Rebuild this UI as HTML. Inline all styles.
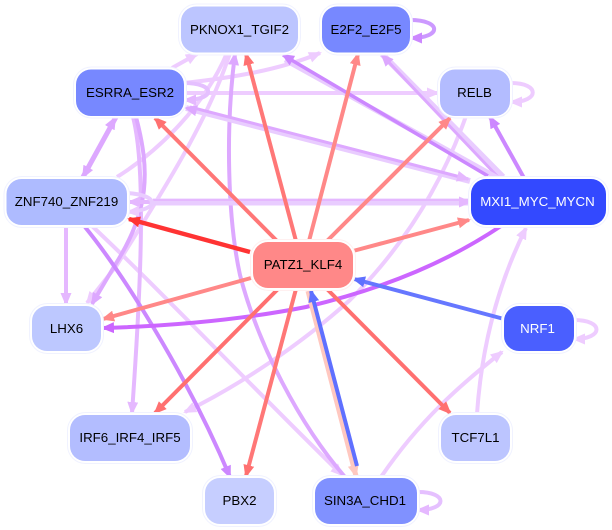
<!DOCTYPE html>
<html><head><meta charset="utf-8"><style>
html,body{margin:0;padding:0;background:#fff;width:612px;height:530px;overflow:hidden}
svg{display:block}
text{font-family:"Liberation Sans",sans-serif;font-size:13.3px;text-anchor:middle;fill:#000}
.e{fill:none;stroke-width:4}
.r{fill:#fff;stroke-width:1}
</style></head><body>
<svg width="612" height="530" viewBox="0 0 612 530" xmlns="http://www.w3.org/2000/svg">
<defs>
<marker id="a1" markerUnits="userSpaceOnUse" markerWidth="14" markerHeight="11" refX="11" refY="5.5" orient="auto"><path d="M0 0L13 5.5L0 11z" fill="#eeccff"/></marker>
<marker id="a2" markerUnits="userSpaceOnUse" markerWidth="14" markerHeight="11" refX="11" refY="5.5" orient="auto"><path d="M0 0L13 5.5L0 11z" fill="#e5b8ff"/></marker>
<marker id="a3" markerUnits="userSpaceOnUse" markerWidth="14" markerHeight="11" refX="11" refY="5.5" orient="auto"><path d="M0 0L13 5.5L0 11z" fill="#dda8ff"/></marker>
<marker id="a4" markerUnits="userSpaceOnUse" markerWidth="14" markerHeight="11" refX="11" refY="5.5" orient="auto"><path d="M0 0L13 5.5L0 11z" fill="#cc88ff"/></marker>
<marker id="a5" markerUnits="userSpaceOnUse" markerWidth="14" markerHeight="11" refX="11" refY="5.5" orient="auto"><path d="M0 0L13 5.5L0 11z" fill="#cc66ff"/></marker>
<marker id="b1" markerUnits="userSpaceOnUse" markerWidth="14" markerHeight="11" refX="11" refY="5.5" orient="auto"><path d="M0 0L13 5.5L0 11z" fill="#ff8888"/></marker>
<marker id="b2" markerUnits="userSpaceOnUse" markerWidth="14" markerHeight="11" refX="11" refY="5.5" orient="auto"><path d="M0 0L13 5.5L0 11z" fill="#ff7070"/></marker>
<marker id="b3" markerUnits="userSpaceOnUse" markerWidth="14" markerHeight="11" refX="11" refY="5.5" orient="auto"><path d="M0 0L13 5.5L0 11z" fill="#ff3333"/></marker>
<marker id="b4" markerUnits="userSpaceOnUse" markerWidth="14" markerHeight="11" refX="11" refY="5.5" orient="auto"><path d="M0 0L13 5.5L0 11z" fill="#ffc8c0"/></marker>
<marker id="c1" markerUnits="userSpaceOnUse" markerWidth="14" markerHeight="11" refX="11" refY="5.5" orient="auto"><path d="M0 0L13 5.5L0 11z" fill="#5f70ff"/></marker>
</defs>

<!-- pale edges -->
<g class="e">
<path d="M466 116C440 190 400 250 350 300C300 345 240 385 185 412" stroke="#eeccff" marker-end="url(#a1)"/>
<path d="M184 93L438 93" stroke="#eeccff" marker-end="url(#a1)"/>
<path d="M184 83C230 78 280 70 320 53" stroke="#eeccff" marker-end="url(#a1)"/>
<path d="M172 68L197 54" stroke="#eeccff" marker-end="url(#a1)"/>
<path d="M117 177C160 150 205 105 227 53" stroke="#eeccff"/>
<path d="M230 53C205 130 150 210 117 265L87 303" stroke="#eeccff" marker-end="url(#a1)"/>
<path d="M92 226C150 280 250 385 342 475" stroke="#eeccff" marker-end="url(#a1)"/>
<path d="M477 414C482 340 500 280 526 228" stroke="#eeccff" marker-end="url(#a1)"/>
<path d="M381 477C420 420 460 385 502 352" stroke="#eeccff" marker-end="url(#a1)"/>
<path d="M511 83C540 83 540 102 511 102" stroke="#eeccff" marker-end="url(#a1)"/>
<path d="M574 320C604 320 604 339 574 339" stroke="#eeccff" marker-end="url(#a1)"/>
<path d="M418 492C448 492 448 510 418 510" stroke="#e5c0ff" marker-end="url(#a2)"/>
<path d="M184 83C216 83 216 100 185 100" stroke="#e5c0ff" marker-end="url(#a2)"/>

<path d="M66 226L66 304" stroke="#e5b8ff" marker-end="url(#a2)"/>
<path d="M133 117C147 170 140 300 132 413" stroke="#e5b8ff" marker-end="url(#a2)"/>
<path d="M136 117C150 170 150 210 115 265L92 304" stroke="#dda8ff" marker-end="url(#a3)"/>
<path d="M345 477C300 425 258 345 240 275C228 220 225 130 235 54" stroke="#dda8ff" marker-end="url(#a3)"/>

<path d="M153 202L470 202" stroke="#e9ccff" stroke-width="7" marker-end="url(#a2)"/>
<path d="M153 200L470 200" stroke="#e5b8ff" stroke-width="2"/>
<path d="M153 202L129 202" stroke="#e5b8ff" marker-end="url(#a2)"/>
<path d="M127 193C160 195 160 210 128 212" stroke="#e9ccff" marker-end="url(#a1)"/>
<path d="M470 181L186 108" stroke="#e9ccff" stroke-width="6" marker-end="url(#a3)"/>
<path d="M190 107L468 179" stroke="#dda8ff" stroke-width="3" marker-end="url(#a2)"/>
<path d="M503 177L382 54" stroke="#e9ccff" stroke-width="6"/>
<path d="M498 177L382 55" stroke="#dda8ff" stroke-width="3" marker-end="url(#a3)"/>
<path d="M498 178L285 60" stroke="#e9ccff" stroke-width="5"/>
<path d="M488 176L283 55" stroke="#cc88ff" stroke-width="3.500" marker-end="url(#a4)"/>
<path d="M524 178L490 117" stroke="#cc88ff" marker-end="url(#a4)"/>
<path d="M116 117L83 177" stroke="#dda8ff" stroke-width="5" marker-end="url(#a3)"/>
<path d="M83 177L115 118" stroke="#dda8ff" stroke-width="3" marker-end="url(#a3)"/>
<path d="M85 227C120 270 185 370 230 477" stroke="#cc88ff" marker-end="url(#a4)"/>
<path d="M410 20C442 20 442 38 411 38" stroke="#cc99ff" marker-end="url(#a4)"/>
<path d="M501 226C450 260 390 287 306 307C240 320 170 326 103 328" stroke="#cc66ff" marker-end="url(#a5)"/>
</g>

<!-- strong edges -->
<g class="e">
<path d="M278 242L155 118" stroke="#ff7777" marker-end="url(#b2)"/>
<path d="M296 241L246 54" stroke="#ff7777" marker-end="url(#b2)"/>
<path d="M309 241L358 54" stroke="#ff8888" marker-end="url(#b1)"/>
<path d="M327 241L450 118" stroke="#ff8888" marker-end="url(#b1)"/>
<path d="M353 251L469 220" stroke="#ff8888" marker-end="url(#b1)"/>
<path d="M250 252L129 219" stroke="#ff3333" marker-end="url(#b3)" stroke-width="4.500"/>
<path d="M251 278L103 319" stroke="#ff8888" marker-end="url(#b1)"/>
<path d="M278 289L155 413" stroke="#ff7070" marker-end="url(#b2)"/>
<path d="M296 289L246 476" stroke="#ff7777" marker-end="url(#b2)"/>
<path d="M327 289L450 413" stroke="#ff7070" marker-end="url(#b2)"/>
<path d="M308 291L356 476" stroke="#ffc8c0" marker-end="url(#b4)" stroke-width="5"/>
<path d="M357 466L311 291" stroke="#5f70ff" marker-end="url(#c1)"/>
<path d="M504 319L354 279" stroke="#6677ff" marker-end="url(#c1)"/>
</g>

<!-- nodes -->
<g stroke="#f0f2ff">
<rect class="r" x="178.500" y="4" width="122" height="51" rx="18"/>
<rect class="r" x="73.500" y="67" width="113" height="51" rx="18"/>
<rect class="r" x="4" y="176.500" width="125.500" height="51" rx="18"/>
<rect class="r" x="319.500" y="4" width="93" height="51" rx="18"/>
<rect class="r" x="437.500" y="67" width="75" height="51" rx="18"/>
<rect class="r" x="468.500" y="176.500" width="140" height="51" rx="18"/>
<rect class="r" x="250.500" y="239.500" width="105" height="51" rx="18" stroke="#fff0f0"/>
<rect class="r" x="29.500" y="303.500" width="74" height="50" rx="18"/>
<rect class="r" x="67.500" y="412.500" width="125" height="51" rx="18"/>
<rect class="r" x="202.500" y="475.500" width="74" height="51" rx="18"/>
<rect class="r" x="312.500" y="475.500" width="107" height="51" rx="18"/>
<rect class="r" x="438.500" y="412.500" width="74" height="51" rx="18"/>
<rect class="r" x="501.500" y="303.500" width="75" height="50" rx="18"/>
</g>
<rect x="181" y="6.500" width="117" height="46" rx="15" fill="#bcc5ff"/>
<rect x="76" y="69.500" width="108" height="46.500" rx="15" fill="#7788ff"/>
<rect x="6.500" y="179" width="120.500" height="46" rx="15" fill="#aebbff"/>
<rect x="322" y="6.500" width="88" height="46" rx="15" fill="#7788ff"/>
<rect x="440" y="69.500" width="70" height="46.500" rx="15" fill="#b3bcff"/>
<rect x="471" y="179" width="135" height="46" rx="15" fill="#3349ff"/>
<rect x="253" y="242" width="100" height="46" rx="15" fill="#ff8888"/>
<rect x="32" y="306" width="69" height="45" rx="15" fill="#bdc8ff"/>
<rect x="70" y="415" width="120" height="46" rx="15" fill="#b3bdff"/>
<rect x="205" y="478" width="69" height="46" rx="15" fill="#c6ceff"/>
<rect x="315" y="478" width="102" height="46" rx="15" fill="#8091ff"/>
<rect x="441" y="415" width="69" height="46" rx="15" fill="#bcc5ff"/>
<rect x="504" y="306" width="70" height="45" rx="15" fill="#4a5fff"/>

<text x="239.500" y="34">PKNOX1_TGIF2</text>
<text x="130" y="97">ESRRA_ESR2</text>
<text x="66.500" y="206">ZNF740_ZNF219</text>
<text x="366" y="34">E2F2_E2F5</text>
<text x="474.500" y="97">RELB</text>
<text x="537.500" y="206" style="fill:#fff">MXI1_MYC_MYCN</text>
<text x="303" y="269">PATZ1_KLF4</text>
<text x="66.500" y="333">LHX6</text>
<text x="130" y="442">IRF6_IRF4_IRF5</text>
<text x="239.500" y="505">PBX2</text>
<text x="365" y="505">SIN3A_CHD1</text>
<text x="475.500" y="442">TCF7L1</text>
<text x="537.500" y="333" style="fill:#fff">NRF1</text>
</svg>
</body></html>
